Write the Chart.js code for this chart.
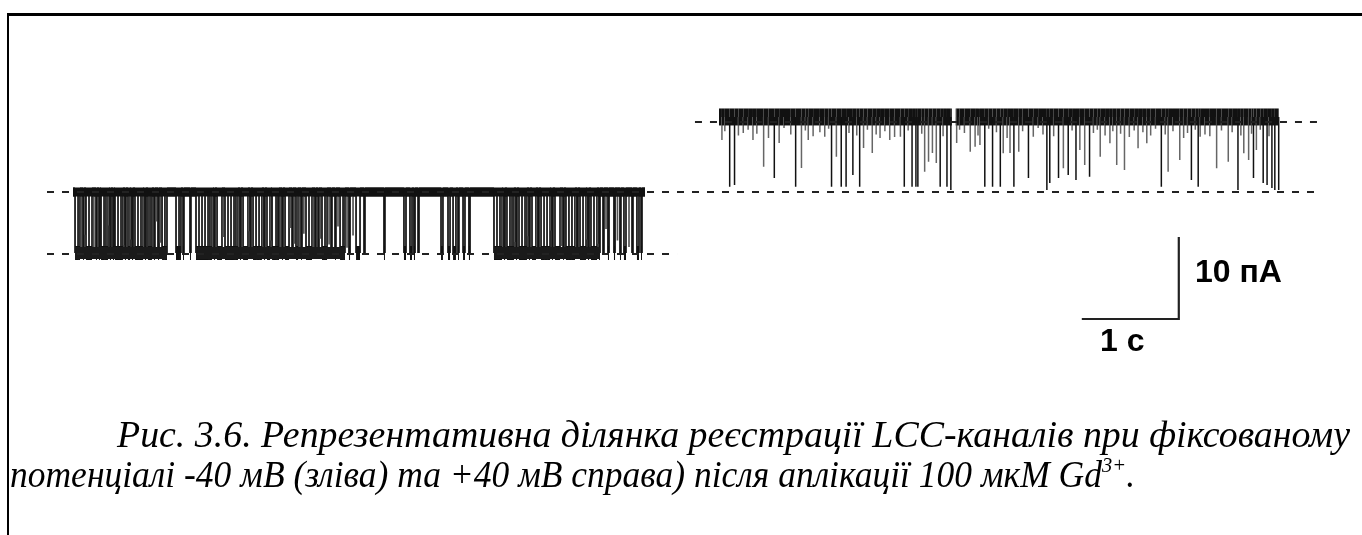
<!DOCTYPE html>
<html><head><meta charset="utf-8">
<script src="https://cdn.jsdelivr.net/npm/chart.js@4/dist/chart.umd.min.js"></script>
<style>
html,body{margin:0;padding:0;background:#fff;}
#wrap{position:relative;width:1362px;height:535px;overflow:hidden;background:#fff;}
#c{position:absolute;left:0;top:0;}
.frameTop{position:absolute;left:7px;top:13px;width:1355px;height:3px;background:#000;}
.frameLeft{position:absolute;left:7px;top:13px;width:2px;height:522px;background:#000;}
.cap{position:absolute;font-family:"Liberation Serif","Times New Roman",serif;font-style:italic;font-size:38px;line-height:1;white-space:nowrap;color:#000;transform-origin:0 0;}
.cap sup{font-size:22px;vertical-align:0;position:relative;top:-15px;}
.lbl{position:absolute;font-family:"Liberation Sans",Arial,sans-serif;font-weight:bold;font-size:32px;line-height:1;white-space:nowrap;color:#000;}
</style></head>
<body><div id="wrap">
<canvas id="c" width="1362" height="535"></canvas>
<div class="frameTop"></div><div class="frameLeft"></div>
<div class="lbl" style="left:1195px;top:255px;">10 пА</div>
<div class="lbl" style="left:1100px;top:324px;">1 с</div>
<div class="cap" id="cap1" style="left:117px;top:415px;">Рис. 3.6. Репрезентативна ділянка реєстрації LCC-каналів при фіксованому</div>
<div class="cap" id="cap2" style="left:10px;top:455px;">потенціалі -40 мВ (зліва) та +40 мВ справа) після аплікації 100 мкМ Gd<sup>3+</sup>.</div>
</div>
<script>
// ---- data (time in s, current in pA relative to closed level) ----
const leftStart = 0.0;
const leftEnd = 5.897;
const leftOpenLevel = -7.44;
// open intervals at -40 mV: [start, end] in s
const leftOpenings = [
 [0.021,0.072],[0.103,0.113],[0.134,0.196],[0.237,0.247],[0.268,0.278],[0.289,0.361],
 [0.381,0.392],[0.412,0.423],[0.433,0.515],[0.536,0.546],[0.567,0.588],[0.608,0.619],
 [0.639,0.722],[0.742,0.753],[0.773,0.814],[0.835,0.845],[0.876,0.887],[0.918,0.969],
 [1.062,1.113],[1.134,1.144],[1.206,1.216],[1.268,1.433],[1.454,1.464],[1.485,1.536],
 [1.567,1.701],[1.722,1.732],[1.753,1.804],[1.825,1.835],[1.856,1.948],[1.969,1.979],
 [2.000,2.031],[2.052,2.124],[2.155,2.165],[2.186,2.227],[2.258,2.268],[2.299,2.320],
 [2.351,2.361],[2.402,2.464],[2.495,2.505],[2.526,2.536],[2.567,2.619],[2.660,2.670],
 [2.701,2.711],[2.753,2.804],[2.845,2.856],[2.918,2.959],[3.000,3.010],[3.206,3.216],
 [3.412,3.433],[3.474,3.495],[3.515,3.526],[3.557,3.567],[3.794,3.814],[3.866,3.887],
 [3.918,3.948],[3.969,3.979],[4.021,4.041],[4.082,4.093],[4.340,4.423],[4.443,4.454],
 [4.474,4.546],[4.567,4.577],[4.598,4.680],[4.701,4.711],[4.732,4.773],[4.794,4.804],
 [4.825,4.918],[4.938,4.948],[4.969,5.021],[5.052,5.062],[5.082,5.175],[5.196,5.206],
 [5.227,5.289],[5.309,5.320],[5.340,5.402],[5.423,5.433],[5.464,5.474],[5.515,5.526],
 [5.577,5.588],[5.639,5.649],[5.680,5.701],[5.763,5.773],[5.814,5.835],[5.856,5.866]
];
// bursts where the open-level noise band is continuous (s)
const leftBurstRegions = [[0.021,0.969],[1.268,2.804],[4.340,5.433]];
// brief full closures inside long openings (s)
const leftFlickerT = [
 0.052,0.165,0.320,0.340,0.464,0.495,0.670,0.701,0.794,0.948,1.093,1.299,1.330,1.361,
 1.392,1.412,1.598,1.629,1.660,1.680,1.887,1.918,2.093,2.113,2.433,2.598,2.784,4.371,
 4.402,4.505,4.526,4.629,4.660,4.856,4.887,5.113,5.144,5.258,5.371
];
// brief incomplete openings during closed gaps (time s, current pA at tip)
const leftPartialT = [
 0.088,0.123,0.215,0.371,0.525,0.598,0.732,0.860,0.902,1.443,1.551,1.711,1.814,1.958,
 2.041,2.140,2.242,2.283,2.335,2.380,2.479,2.551,2.640,2.732,2.825,2.887,4.433,4.556,
 4.690,4.783,4.928,5.036,5.185,5.299,5.412,5.495,5.613,5.732
];
const leftPartialI = [
 -6.8,-5.2,-7.0,-4.1,-6.5,-5.8,-7.1,-3.6,-6.2,-6.9,-5.5,-7.0,-4.8,-6.6,
 -5.9,-7.1,-4.4,-6.3,-6.9,-5.1,-7.0,-5.7,-6.4,-4.2,-6.8,-5.3,-7.0,-6.1,
 -5.4,-6.9,-4.7,-6.6,-7.0,-5.8,-6.3,-4.5,-5.9,-6.7
];
// +40 mV trace: two segments, open level, closing spikes (time, current at spike tip)
const rightSegments = [[6.66, 9.06],[9.10, 12.43]];
const rightOpenLevel = 9.15;
const rightSpikeT = [
 6.69,6.77,6.82,6.91,7.01,7.12,7.23,7.28,7.45,7.51,7.58,7.75,7.82,7.87,7.92,7.97,
 8.04,8.11,8.15,8.24,8.32,8.42,8.53,8.57,8.65,8.69,8.71,8.78,8.82,8.86,8.90,8.94,
 9.01,9.05,9.11,9.25,9.30,9.35,9.40,9.48,9.56,9.59,9.66,9.70,9.75,9.85,9.90,10.04,
 10.07,10.16,10.21,10.26,10.34,10.38,10.43,10.48,10.59,10.69,10.76,10.84,10.98,11.07,
 11.22,11.29,11.41,11.53,11.60,11.62,11.79,11.91,12.01,12.07,12.12,12.17,12.20,12.27,
 12.31,12.36,12.39,12.43
];
const rightSpikeI = [
 6.34,0.65,0.85,7.20,6.34,3.09,1.71,5.98,0.65,2.93,6.34,6.74,0.65,4.30,0.65,0.65,
 2.07,0.65,5.37,4.76,6.59,6.34,6.74,0.65,0.65,0.65,0.65,2.48,3.70,4.76,3.54,0.65,
 0.65,0.25,5.98,4.91,5.52,5.73,0.65,0.65,0.65,4.72,4.76,0.65,4.91,1.70,6.74,0.25,
 1.10,1.70,2.89,2.07,1.46,5.12,3.29,1.87,4.30,5.94,3.29,2.68,5.33,5.94,
 0.65,2.48,3.90,1.46,0.65,6.74,2.89,3.70,0.25,4.72,3.90,1.70,5.12,1.10,
 0.85,0.50,0.25,0.25
];
// shallow flickers below the open level
const rightShallowT = [
 6.72,6.86,6.96,7.05,7.17,7.33,7.40,7.55,7.63,7.70,7.79,8.00,8.08,8.19,8.28,
 8.37,8.47,8.61,8.75,8.97,9.14,9.19,9.33,9.44,9.52,9.63,9.79,9.95,10.00,10.11,
 10.30,10.52,10.56,10.64,10.72,10.80,10.89,10.94,11.03,11.11,11.16,11.26,11.34,11.45,11.49,
 11.57,11.67,11.72,11.84,11.95,12.04,12.15,12.24,12.33
];
const rightShallowI = [
 7.4,6.9,7.6,7.1,6.6,7.8,7.0,7.5,6.8,7.3,7.7,7.2,6.9,7.6,7.0,
 7.4,6.7,7.5,7.1,6.8,7.6,7.2,6.9,7.7,7.3,6.6,7.4,7.8,7.0,6.8,
 7.5,7.2,7.6,6.9,7.4,7.1,6.7,7.5,7.3,6.9,7.7,7.0,7.4,6.6,7.2,
 7.6,7.0,6.8,7.5,7.3,6.9,7.1,7.6,6.8
];
// reference (dashed) levels
const closedLevel = 0;
const dashClosed = {level:0, from:-0.268, to:12.856};
const dashLeftOpen = {level:-7.56, from:-0.268, to:6.227};
const dashRightOpen = {level:8.54, from:6.412, to:12.876};
// scale bar: 1 s horizontal, 10 pA vertical
const scaleBarT = [10.40, 11.40];
const scaleBarI = [-15.49, -5.49];

// ---- build point lists ----
function buildLeft(){
  const pts=[{x:leftStart,y:closedLevel}];
  let prevEnd=leftStart;
  const partial=leftPartialT.map((t,i)=>({t,v:leftPartialI[i]}));
  for(const [a,b] of leftOpenings){
    partial.filter(p=>p.t>prevEnd&&p.t<a).forEach(p=>{
      pts.push({x:p.t,y:closedLevel},{x:p.t,y:p.v},{x:p.t,y:closedLevel});
    });
    pts.push({x:a,y:closedLevel},{x:a,y:leftOpenLevel});
    leftFlickerT.filter(t=>t>a&&t<b).forEach(t=>{
      pts.push({x:t,y:leftOpenLevel},{x:t,y:closedLevel},{x:t,y:leftOpenLevel});
    });
    pts.push({x:b,y:leftOpenLevel},{x:b,y:closedLevel});
    prevEnd=b;
  }
  pts.push({x:leftEnd,y:closedLevel});
  return pts;
}
function buildBursts(){
  const pts=[];
  leftBurstRegions.forEach(([a,b],i)=>{
    if(i>0) pts.push({x:(leftBurstRegions[i-1][1]+a)/2,y:null});
    pts.push({x:a,y:leftOpenLevel},{x:b,y:leftOpenLevel});
  });
  return pts;
}
function buildRight(){
  const spikes=rightSpikeT.map((t,i)=>({t,v:rightSpikeI[i]}))
    .concat(rightShallowT.map((t,i)=>({t,v:rightShallowI[i]})))
    .sort((a,b)=>a.t-b.t);
  const pts=[];
  rightSegments.forEach(([s,e],si)=>{
    if(si>0) pts.push({x:(rightSegments[si-1][1]+s)/2,y:null});
    pts.push({x:s,y:rightOpenLevel});
    spikes.forEach(sp=>{
      if(sp.t>=s && sp.t<=e){
        pts.push({x:sp.t,y:rightOpenLevel},{x:sp.t,y:sp.v},{x:sp.t,y:rightOpenLevel});
      }
    });
    pts.push({x:e,y:rightOpenLevel});
  });
  return pts;
}
const isVert=(c)=>c.p0.parsed.x===c.p1.parsed.x;
const dashSet=(o)=>({data:[{x:o.from,y:o.level},{x:o.to,y:o.level}],borderColor:'#222',borderWidth:2,borderDash:[7,8]});

const datasets=[
 dashSet(dashClosed), dashSet(dashLeftOpen), dashSet(dashRightOpen),
 // closed-level noise band of the -40 mV record
 {data:[{x:leftStart,y:closedLevel},{x:leftEnd,y:closedLevel}],borderColor:'#111',borderWidth:9},
 // open-level noise band during bursts
 {data:buildBursts(),borderColor:'#1a1a1a',borderWidth:12,spanGaps:false},
 {data:buildLeft(),borderColor:'#111',borderWidth:1.7,
  segment:{borderWidth:c=>isVert(c)?1.7:(c.p0.parsed.y===closedLevel?9:14),
           borderColor:c=>{ if(!isVert(c)) return '#111'; const lo=Math.min(c.p0.parsed.y,c.p1.parsed.y), hi=Math.max(c.p0.parsed.y,c.p1.parsed.y); return (lo<=leftOpenLevel+0.01&&hi>=closedLevel-0.01)?'#111':'#555'; }}},
 {data:buildRight(),borderColor:'#111',borderWidth:1.5,spanGaps:false,
  segment:{borderWidth:c=>isVert(c)?1.5:17,
           borderColor:c=>{ if(!isVert(c)) return '#111'; const m=Math.min(c.p0.parsed.y,c.p1.parsed.y); return m<2.2?'#111':'#666'; }}},
 {data:[{x:scaleBarT[0],y:scaleBarI[0]},{x:scaleBarT[1],y:scaleBarI[0]},{x:scaleBarT[1],y:scaleBarI[1]}],borderColor:'#222',borderWidth:2.2}
];
datasets.forEach(d=>{d.pointRadius=0;d.tension=0;d.fill=false;d.borderCapStyle='butt';d.borderJoinStyle='miter';});

new Chart(document.getElementById('c'),{
  type:'line',
  data:{datasets},
  options:{
    responsive:false,animation:false,events:[],
    layout:{padding:0},
    plugins:{legend:{display:false},tooltip:{enabled:false},title:{display:false}},
    scales:{
      x:{type:'linear',display:false,min:-0.7526,max:13.2887},
      y:{type:'linear',display:false,min:-41.829,max:23.415}
    }
  }
});

// fit caption lines to reference widths
function fit(id,w){const el=document.getElementById(id);const r=el.getBoundingClientRect().width;el.style.transform='scaleX('+(w/r)+')';}
fit('cap1',1233);fit('cap2',1125);
</script>
</body></html>
